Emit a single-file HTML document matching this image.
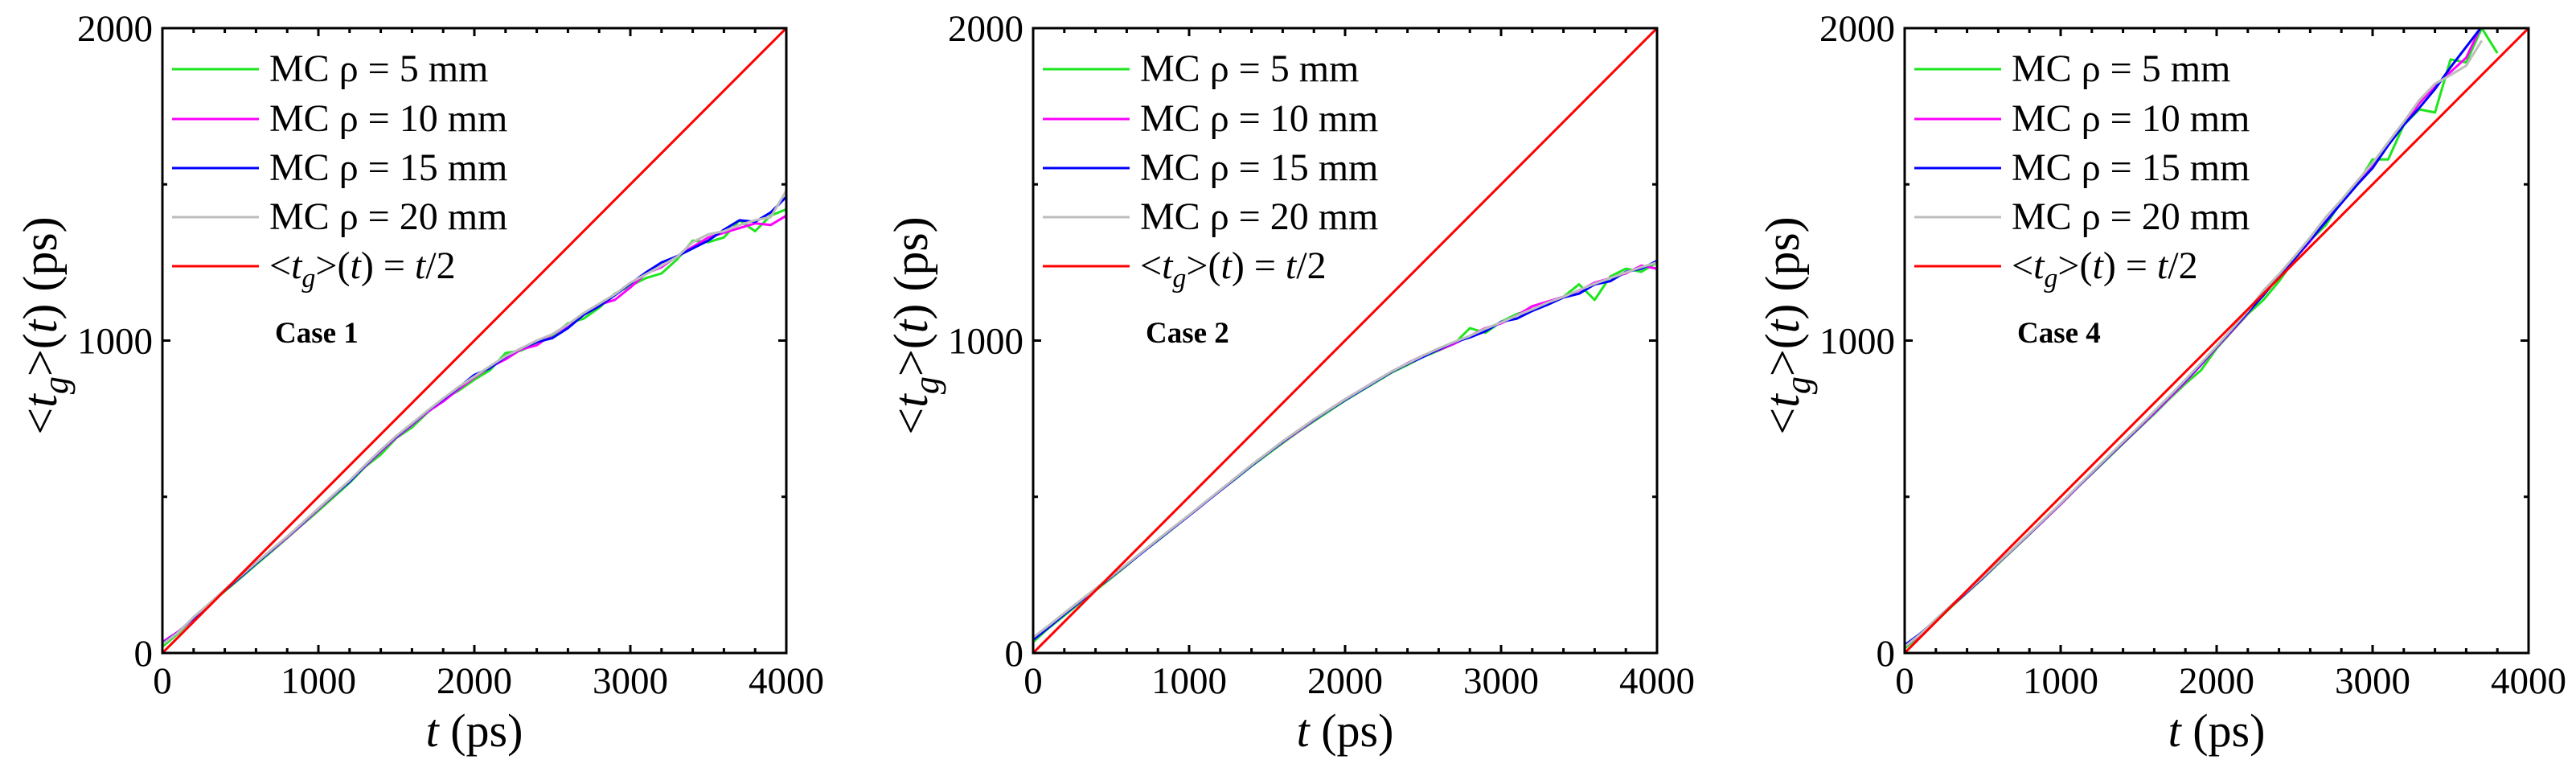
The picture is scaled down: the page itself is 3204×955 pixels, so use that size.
<!DOCTYPE html>
<html><head><meta charset="utf-8">
<style>
html,body{margin:0;padding:0;background:#fff;}
svg{display:block;}
svg text, svg tspan{font-family:"Liberation Serif","Times New Roman",Times,"Nimbus Roman","DejaVu Serif",serif;fill:#000;}
</style></head>
<body>
<svg id="chart" width="3204" height="955" viewBox="0 0 3204 955" xmlns="http://www.w3.org/2000/svg"></svg>
<script>
const timeStep = 100;
const xTicks = [0, 1000, 2000, 3000, 4000];
const yTicks = [0, 1000, 2000];
const seriesNames = ["MC \u03c1 = 5 mm", "MC \u03c1 = 10 mm", "MC \u03c1 = 15 mm", "MC \u03c1 = 20 mm"];
const caseLabels = ["Case 1", "Case 2", "Case 4"];

const case1Rho5 = [20,62,112,155,198,240,283,325,368,412,455,500,545,596,635,688,722,770,812,840,875,905,960,968,992,1015,1055,1070,1105,1150,1175,1200,1215,1260,1320,1315,1330,1385,1350,1400,1420];
const case1Rho10 = [35,68,110,154,200,244,287,328,370,414,460,505,550,598,645,690,730,772,805,845,882,915,940,972,985,1020,1048,1085,1115,1130,1170,1215,1235,1270,1300,1330,1345,1360,1375,1370,1400];
const case1Rho15 = [30,66,112,156,200,243,286,329,372,416,462,506,548,600,648,693,733,775,812,850,890,912,948,975,995,1008,1040,1082,1110,1145,1182,1218,1250,1270,1295,1320,1355,1385,1380,1410,1460];
const case1Rho20 = [28,65,115,158,203,246,289,331,373,418,463,508,552,602,650,695,735,776,815,852,885,918,950,975,1000,1020,1052,1088,1118,1148,1185,1212,1240,1268,1315,1340,1350,1370,1385,1395,1480];

const case2Rho5 = [35,80,120,160,200,240,280,322,360,400,440,480,520,558,598,635,672,708,742,775,808,838,868,898,922,948,968,990,1040,1025,1060,1085,1100,1115,1140,1180,1130,1205,1230,1220,1250];
const case2Rho10 = [45,84,124,164,204,243,282,322,362,401,440,480,520,560,600,638,675,710,745,780,812,842,872,900,928,952,970,990,1015,1040,1055,1080,1110,1125,1140,1160,1185,1200,1215,1240,1230];
const case2Rho15 = [42,82,124,164,204,243,282,322,362,401,440,480,520,560,600,638,676,712,746,778,810,840,870,900,925,948,972,995,1010,1030,1060,1070,1095,1115,1138,1150,1180,1190,1220,1230,1255];
const case2Rho20 = [50,88,128,167,206,245,284,324,364,403,442,482,522,562,602,640,678,713,748,780,812,842,872,902,927,952,975,996,1015,1038,1058,1080,1100,1122,1140,1162,1182,1200,1218,1235,1250];

const case4Rho5 = [15,55,100,148,193,238,286,333,380,428,476,526,574,622,670,718,765,815,862,905,975,1030,1085,1130,1190,1260,1320,1370,1445,1500,1580,1580,1690,1740,1730,1900,1890,2000,1920];
const case4Rho10 = [20,58,104,150,195,240,288,334,381,428,476,526,575,624,672,720,768,818,868,922,978,1032,1088,1148,1208,1262,1318,1382,1440,1505,1562,1630,1692,1760,1815,1860,1905,2010];
const case4Rho15 = [25,62,106,152,196,241,289,335,382,430,478,528,576,625,674,722,772,822,872,925,980,1035,1090,1145,1205,1262,1322,1380,1440,1498,1552,1625,1690,1745,1805,1875,1940,2005];
const case4Rho20 = [20,60,108,154,198,243,290,336,383,431,479,529,578,627,676,724,774,824,875,928,982,1038,1095,1160,1212,1270,1330,1395,1450,1510,1568,1635,1700,1770,1822,1850,1880,1960];

const panelSeries = [
  [case1Rho5, case1Rho10, case1Rho15, case1Rho20],
  [case2Rho5, case2Rho10, case2Rho15, case2Rho20],
  [case4Rho5, case4Rho10, case4Rho15, case4Rho20]
];
const colors = ["#1ee61e", "#ff00ff", "#0000ff", "#bdbdbd"];
const panelLefts = [202, 1285, 2369];
const plotW = 776, plotTop = 35, plotBottom = 812;
const xMax = 4000, yMax = 2000;

const NS = "http://www.w3.org/2000/svg";
const svg = document.getElementById("chart");
function mk(tag, attrs, parent) {
  const e = document.createElementNS(NS, tag);
  for (const k in attrs) e.setAttribute(k, attrs[k]);
  (parent || svg).appendChild(e);
  return e;
}

const defs = mk("defs", {});
panelLefts.forEach((left, p) => {
  const xs = v => left + v / xMax * plotW;
  const ys = v => plotBottom - v / yMax * (plotBottom - plotTop);
  const g = mk("g", {});
  
  

  const cp = mk("clipPath", {id: "clip" + p}, defs);
  mk("rect", {x: left, y: plotTop, width: plotW, height: plotBottom - plotTop}, cp);

  panelSeries[p].forEach((arr, s) => {
    const pts = arr.map((v, i) => xs(i * timeStep).toFixed(1) + "," + ys(v).toFixed(1)).join(" ");
    const pl = mk("polyline", {points: pts, fill: "none", stroke: colors[s], "stroke-width": 3, "stroke-linejoin": "round", "clip-path": "url(#clip" + p + ")"}, g);
    
    
  });
  const ref = mk("line", {x1: xs(0), y1: ys(0), x2: xs(xMax), y2: ys(xMax / 2), stroke: "#ff0000", "stroke-width": 3, "clip-path": "url(#clip" + p + ")"}, g);
  
  

  const fr = mk("rect", {x: left, y: plotTop, width: plotW, height: plotBottom - plotTop, fill: "none", stroke: "#000", "stroke-width": 3}, g);
  
  

  for (let t = 0; t <= xMax; t += 200) {
    const len = t % 1000 === 0 ? 10 : 6;
    mk("line", {x1: xs(t), y1: plotBottom, x2: xs(t), y2: plotBottom - len, stroke: "#000", "stroke-width": 3}, g);
    mk("line", {x1: xs(t), y1: plotTop, x2: xs(t), y2: plotTop + len, stroke: "#000", "stroke-width": 3}, g);
  }
  for (let v = 0; v <= yMax; v += 500) {
    const len = v % 1000 === 0 ? 10 : 6;
    mk("line", {x1: left, y1: ys(v), x2: left + len, y2: ys(v), stroke: "#000", "stroke-width": 3}, g);
    mk("line", {x1: left + plotW, y1: ys(v), x2: left + plotW - len, y2: ys(v), stroke: "#000", "stroke-width": 3}, g);
  }
  xTicks.forEach(t => {
    const tx = mk("text", {x: xs(t), y: 862, "font-size": 47, "text-anchor": "middle"}, g);
    tx.textContent = t;
    
    
  });
  yTicks.forEach(v => {
    const tx = mk("text", {x: left - 12, y: ys(v) + 16, "font-size": 47, "text-anchor": "end"}, g);
    tx.textContent = v;
    
    
  });

  const xt = mk("text", {x: left + plotW / 2, y: 928, "font-size": 58, "text-anchor": "middle"}, g);
  xt.innerHTML = '<tspan font-style="italic">t</tspan> (ps)';
  
  
  const yt = mk("text", {x: 0, y: 0, "font-size": 60, "text-anchor": "middle", transform: "translate(" + (left - 132) + "," + 405 + ") rotate(-90)"}, g);
  yt.innerHTML = '&lt;<tspan font-style="italic">t</tspan><tspan font-style="italic" font-size="44" dy="14">g</tspan><tspan dy="-14">&gt;(</tspan><tspan font-style="italic">t</tspan>) (ps)';
  
  

  const leg = mk("g", {}, g);
  
  
  const rows = [86, 148, 209, 270, 331];
  seriesNames.concat(["ref"]).forEach((name, i) => {
    const y = rows[i];
    const ln = mk("line", {x1: left + 12, y1: y, x2: left + 120, y2: y, stroke: i < 4 ? colors[i] : "#ff0000", "stroke-width": 3}, leg);
    
    
    const tx = mk("text", {x: left + 133, y: y + 15, "font-size": 48}, leg);
    if (i < 4) tx.textContent = name;
    else tx.innerHTML = '&lt;<tspan font-style="italic">t</tspan><tspan font-style="italic" font-size="34" dy="11">g</tspan><tspan dy="-11">&gt;(</tspan><tspan font-style="italic">t</tspan>) = <tspan font-style="italic">t</tspan>/2';
    
    
  });

  const cl = mk("text", {x: left + 140, y: 426, "font-size": 37, "font-weight": "bold"}, g);
  cl.textContent = caseLabels[p];
  
  
});
</script>
</body></html>
